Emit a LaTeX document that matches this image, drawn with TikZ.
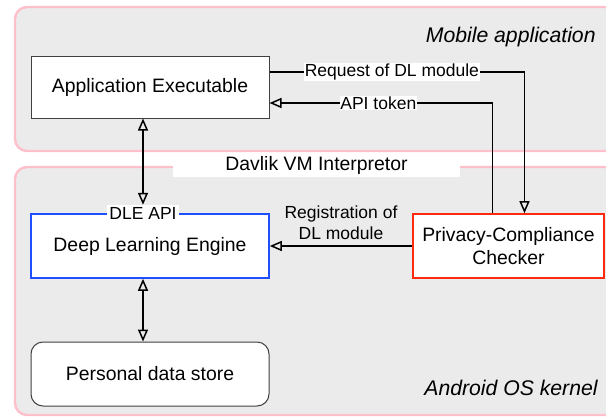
\documentclass[tikz,border=0pt]{standalone}
\usepackage{fontspec}
\setmainfont{Liberation Sans}
\usetikzlibrary{arrows.meta}

\definecolor{layergray}{HTML}{EBEBEB}
\definecolor{layerpink}{HTML}{FFC0CB}
\definecolor{dleblue}{HTML}{1F4FFF}
\definecolor{pccred}{HTML}{FF2A10}

\begin{document}
\begin{tikzpicture}[x=0.5pt, y=-0.5pt,
    layer/.style={draw=layerpink, line width=1.2pt, fill=layergray, rounded corners=6pt},
    layer_label/.style={font=\fontsize{10.6}{12.5}\selectfont\itshape, anchor=east, inner sep=0pt},
    block/.style={draw=black!75, line width=0.5pt, fill=white, minimum width=119pt,
        minimum height=31pt, font=\fontsize{9.7}{11.6}\selectfont, align=center, inner sep=0pt},
    link/.style={line width=0.75pt},
    tip/.style={-{Triangle[open, length=6pt, width=5pt]}},
    both_tip/.style={{Triangle[open, length=6pt, width=5pt]}-{Triangle[open, length=6pt, width=5pt]}},
    link_label/.style={font=\fontsize{8.75}{10.5}\selectfont, fill=white, inner sep=0.4pt, align=center}
]
    \clip (0,0) rectangle (606,418);
    % Schichten
    \draw[layer] (15,7) rectangle (640,151);
    \draw[layer] (15,167) rectangle (640,415);
    \node[layer_label] (mobile) at (596,37) {Mobile application};
    \node[layer_label] (kernel) at (598,388) {Android OS kernel};
    \node[fill=white, minimum width=143.5pt, minimum height=12pt, inner sep=0pt,
        font=\fontsize{9.7}{11.6}\selectfont] (davlik) at (316.5,165) {Davlik VM Interpretor};
    % Bausteine
    \node[block] (app) at (150,87) {Application Executable};
    \node[block, draw=dleblue, line width=0.8pt, minimum height=32pt] (dle) at (150,246) {Deep Learning Engine};
    \node[block, draw=pccred, line width=0.8pt, minimum width=95.5pt, minimum height=32pt] (checker) at (508.5,246) {Privacy-Compliance\\Checker};
    \node[block, rounded corners=6pt, minimum height=32pt] (store) at (150,374) {Personal data store};
    \node[link_label, inner sep=1pt] (api) at ([xshift=-3.5pt]dle.north) {DLE API};
    % Verbindungen
    \draw[link, tip] ([yshift=7.5pt]app.east) -| node[link_label, pos=0.24] {Request of DL module} ([xshift=8pt]checker.north);
    \draw[link, tip] ([xshift=-8pt]checker.north) |- node[link_label, pos=0.756] {API token} ([yshift=-8pt]app.east);
    \draw[link, tip] (checker.west) -- node[above=2pt, font=\fontsize{8.75}{10.5}\selectfont, align=center, inner sep=1pt] {Registration of\\DL module} (dle.east);
    \draw[link, both_tip] ([xshift=-3.5pt]app.south) -- (api.north);
    \draw[link, both_tip] ([xshift=-3.5pt]dle.south) -- ([xshift=-3.5pt]store.north);
\end{tikzpicture}
\end{document}
